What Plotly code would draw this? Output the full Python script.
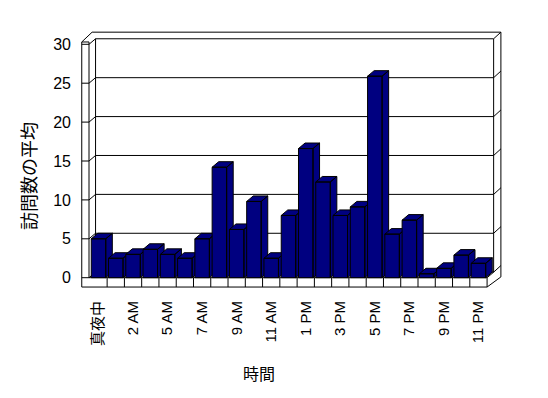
import plotly.graph_objects as go

# ---- data ----
hours = ["真夜中", "1 AM", "2 AM", "4 AM", "5 AM", "6 AM", "7 AM", "8 AM", "9 AM",
         "10 AM", "11 AM", "12 PM", "1 PM", "2 PM", "3 PM", "4 PM", "5 PM", "6 PM",
         "7 PM", "8 PM", "9 PM", "10 PM", "11 PM"]
visits = [5.0, 2.5, 3.0, 3.65, 3.0, 2.5, 5.0, 14.2, 6.2, 9.8, 2.5, 8.0, 16.6,
          12.3, 8.0, 9.1, 25.9, 5.6, 7.4, 0.5, 1.2, 2.9, 1.85]
y_ticks = [0, 5, 10, 15, 20, 25, 30]
tick_idx = list(range(0, len(hours), 2))
tick_text = [hours[i] for i in tick_idx]

# ---- pseudo-3D geometry (data units) ----
BAR_W = 0.84
DX, DY = 0.38, 0.71          # depth offset
XL, XR = -0.55, 22.5         # front plane extent
WT = 0.42                    # left wall thickness
FB = -1.2                    # floor bottom
BTX, BTY = 0.42, 0.85        # back wall thickness
YMAX = 30
NAVY = "#000080"
FONT = "Liberation Sans, Noto Sans CJK JP, sans-serif"

fig = go.Figure()

for i, v in enumerate(visits):
    L, R = i - BAR_W / 2, i + BAR_W / 2
    xs = [L, R, R, L, L, None,
          L, L + DX, R + DX, R, R + DX, R + DX, R, R, L]
    ys = [0, 0, v, v, 0, None,
          v, v + DY, v + DY, v, v + DY, DY, 0, v, v]
    fig.add_trace(go.Scatter(x=xs, y=ys, mode="lines", fill="toself",
                             fillcolor=NAVY, line=dict(color="black", width=1),
                             hoverinfo="skip", showlegend=False))

shapes = []
def seg(x0, y0, x1, y1):
    shapes.append(dict(type="line", xref="x", yref="y", x0=x0, y0=y0, x1=x1, y1=y1,
                       line=dict(color="black", width=1), layer="below"))

# back wall gridlines + wall ticks
for t in y_ticks:
    seg(XL - WT, t, XL, t)
    seg(XL, t, XL + DX, t + DY)
    seg(XL + DX, t + DY, XR + DX, t + DY)
    seg(XR + DX, t + DY, XR + DX + BTX, t + DY + BTY)
# back wall inner edges
seg(XL + DX, DY, XL + DX, YMAX + DY)
seg(XR + DX, DY, XR + DX, YMAX + DY)
# outer top / right
top_out = YMAX + DY + BTY
seg(XL + DX - 0.2, top_out, XR + DX + BTX, top_out)
seg(XR + DX + BTX, top_out, XR + DX + BTX, FB + 1.3)
seg(XR, FB, XR + DX + BTX, FB + 1.3)
# left wall
seg(XL - WT, FB, XL - WT, YMAX + 0.3)
seg(XL, 0, XL, YMAX + 0.3)
seg(XL - WT, YMAX + 0.3, XL, YMAX + 0.3)
seg(XL - WT, YMAX + 0.3, XL + DX - 0.2, top_out)
# floor
seg(XL - WT, FB, XR, FB)
seg(XL, 0, XR, 0)
seg(XR, 0, XR, FB)
seg(XR, 0, XR + DX, DY)
for k in range(len(hours) - 1):
    seg(k + 0.5, FB, k + 0.5, 0)

# plot area in pixels: x 78..510, y 28..290
fig.update_layout(
    width=548, height=398,
    margin=dict(l=78, r=38, t=28, b=108),
    paper_bgcolor="white", plot_bgcolor="white",
    font=dict(family=FONT, color="black"),
    shapes=shapes,
    xaxis=dict(range=[-1.187, 23.827], tickmode="array", tickvals=tick_idx,
               ticktext=tick_text, tickangle=-90, showgrid=False, zeroline=False,
               showline=False, ticks="", tickfont=dict(size=15, family=FONT),
               ticklabelstandoff=7, fixedrange=True),
    yaxis=dict(range=[-1.581, 32.095], tickmode="array", tickvals=y_ticks,
               showgrid=False, zeroline=False, showline=False, ticks="",
               tickfont=dict(size=16, family=FONT), ticklabelstandoff=6,
               fixedrange=True),
    annotations=[
        dict(text="時間", xref="paper", yref="paper", x=0.419, y=-0.3244,
             showarrow=False, font=dict(size=16, family=FONT),
             xanchor="center", yanchor="middle"),
        dict(text="訪問数の平均", xref="paper", yref="paper", x=-0.111, y=0.435,
             showarrow=False, textangle=-90, font=dict(size=18, family=FONT),
             xanchor="center", yanchor="middle"),
    ],
)

fig.write_html("out.html")
